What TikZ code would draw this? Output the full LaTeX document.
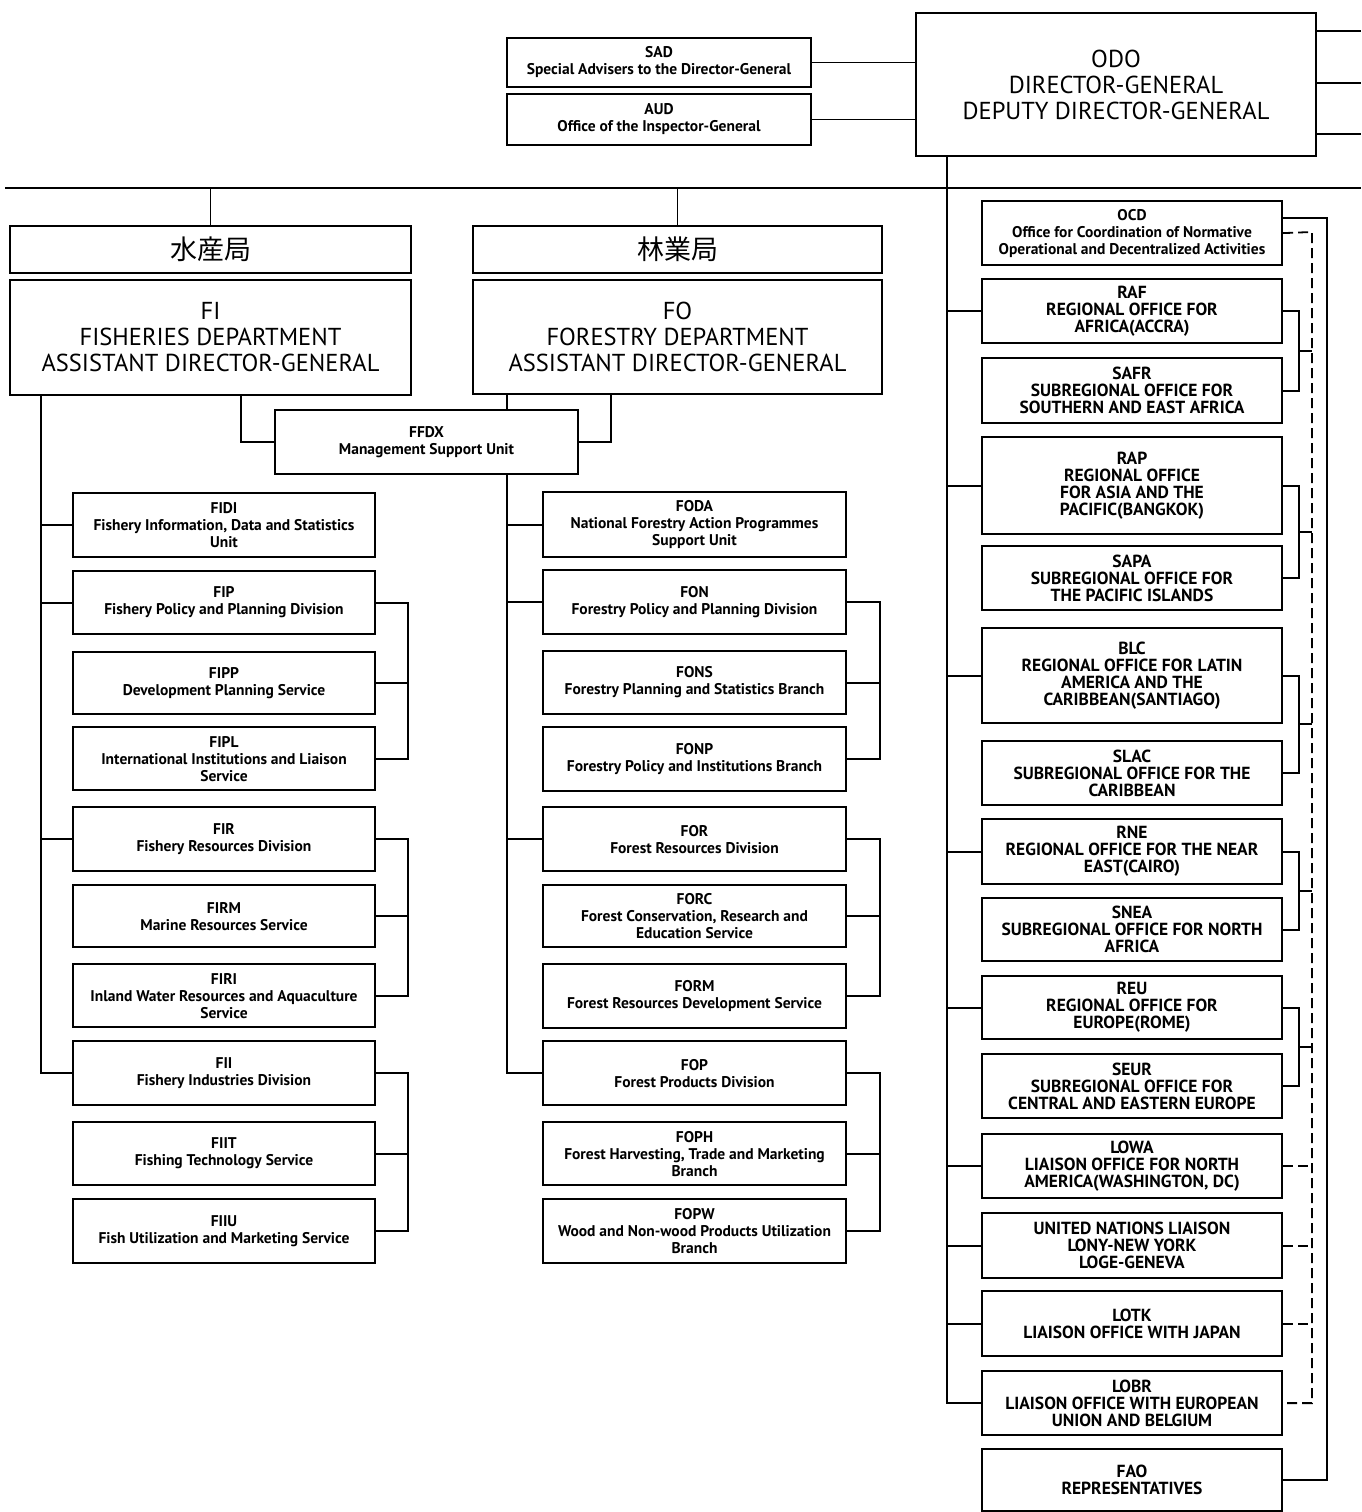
\documentclass[tikz,border=0pt]{standalone}
\usepackage{fontspec}
\setmainfont{PT Sans}
\newfontfamily\jpfont{Noto Sans CJK JP}
\usetikzlibrary{calc}

\begin{document}
\begin{tikzpicture}[x=1pt,y=-1pt,line width=1.8pt,
    box/.style={draw,line width=2.2pt,fill=white,align=center,inner sep=0pt},
    unit/.style={box,minimum width=302pt,font=\bfseries\fontsize{15.5}{17}\selectfont},
    office/.style={box,minimum width=300pt,font=\bfseries\fontsize{17.5}{17}\selectfont},
    head/.style={box,font=\fontsize{24.5}{26}\selectfont},
    kanji/.style={box,minimum height=47pt,font=\jpfont\fontsize{27}{30}\selectfont},
    link/.style={dash pattern=on 10pt off 5pt}]
  \useasboundingbox (0,0) rectangle (1361,1512);

  % director-general and the offices beside it
  \node[head,minimum width=400pt,minimum height=143pt] (odo) at (1116,84.5) {ODO\\DIRECTOR-GENERAL\\DEPUTY DIRECTOR-GENERAL};
  \node[unit,minimum width=304pt,minimum height=49pt] (sad) at (659,62.5) {SAD\\Special Advisers to the Director-General};
  \node[unit,minimum width=304pt,minimum height=51pt] (aud) at (659,119.5) {AUD\\Office of the Inspector-General};
  \draw (sad.east) -- (sad.east -| odo.west);
  \draw (aud.east) -- (aud.east -| odo.west);
  \coordinate (rim) at (1361,0);
  \foreach \dy in {19,71,122}
    \draw ($(odo.north east)+(0,\dy)$) coordinate (t) -- (t -| rim);

  % main bus
  \coordinate (busL) at (5,188);
  \coordinate (busR) at (1361,188);
  \draw[line width=1.4pt] (busL) -- (busR);

  % departments
  \node[kanji,minimum width=401pt] (fish) at (210.5,249.5) {水産局};
  \node[head,minimum width=401pt,minimum height=115pt] (fi) at (210.5,337.5) {FI\\FISHERIES DEPARTMENT\\ASSISTANT DIRECTOR-GENERAL};
  \node[kanji,minimum width=409pt] (fore) at (677.5,249.5) {林業局};
  \node[head,minimum width=409pt,minimum height=114pt] (fo) at (677.5,337) {FO\\FORESTRY DEPARTMENT\\ASSISTANT DIRECTOR-GENERAL};
  \draw (fish.north) -- (fish.north |- busL);
  \draw (fore.north) -- (fore.north |- busL);

  \node[unit,minimum width=303pt,minimum height=64pt] (ffdx) at (426.5,442) {FFDX\\Management Support Unit};
  \draw ([xshift=232pt]fi.south west) |- (ffdx.west);
  \draw ([xshift=139pt]fo.south west) |- (ffdx.east);

  % fisheries
  \foreach \nm/\yt/\hh/\txt in {
      fidi/492/64/{FIDI\\Fishery Information, Data and Statistics\\Unit},
      fip/570/63/{FIP\\Fishery Policy and Planning Division},
      fipp/651/62/{FIPP\\Development Planning Service},
      fipl/726/63/{FIPL\\International Institutions and Liaison\\Service},
      fir/806/64/{FIR\\Fishery Resources Division},
      firm/884/62/{FIRM\\Marine Resources Service},
      firi/963/63/{FIRI\\Inland Water Resources and Aquaculture\\Service},
      fii/1040/64/{FII\\Fishery Industries Division},
      fiit/1121/63/{FIIT\\Fishing Technology Service},
      fiiu/1198/64/{FIIU\\Fish Utilization and Marketing Service}}
    \node[unit,anchor=north,minimum height=\hh pt] (\nm) at (224,\yt) {\txt};
  \coordinate (fitr) at ([xshift=32pt]fi.south west);
  \draw (fitr) |- (fii.west);
  \foreach \nm in {fidi,fip,fir}
    \draw (\nm.west) -- (\nm.west -| fitr);
  \foreach \a/\b/\c in {fip/fipp/fipl,fir/firm/firi,fii/fiit/fiiu} {
    \draw (\a.east) -- ++(32pt,0) |- (\c.east);
    \draw (\b.east) -- ++(32pt,0);
  }

  % forestry
  \foreach \nm/\yt/\hh/\txt in {
      foda/491/65/{FODA\\National Forestry Action Programmes\\Support Unit},
      fon/569/64/{FON\\Forestry Policy and Planning Division},
      fons/650/63/{FONS\\Forestry Planning and Statistics Branch},
      fonp/726/64/{FONP\\Forestry Policy and Institutions Branch},
      for/806/64/{FOR\\Forest Resources Division},
      forc/884/62/{FORC\\Forest Conservation, Research and\\Education Service},
      form/963/64/{FORM\\Forest Resources Development Service},
      fop/1040/64/{FOP\\Forest Products Division},
      foph/1121/63/{FOPH\\Forest Harvesting, Trade and Marketing\\Branch},
      fopw/1198/64/{FOPW\\Wood and Non-wood Products Utilization\\Branch}}
    \node[unit,anchor=north,minimum width=303pt,minimum height=\hh pt] (\nm) at (694.5,\yt) {\txt};
  \coordinate (fotr) at ([xshift=35pt]fo.south west);
  \draw (fotr) -- (fotr |- ffdx.north);
  \draw (fotr |- ffdx.south) |- (fop.west);
  \foreach \nm in {foda,fon,for}
    \draw (\nm.west) -- (\nm.west -| fotr);
  \foreach \a/\b/\c in {fon/fons/fonp,for/forc/form,fop/foph/fopw} {
    \draw (\a.east) -- ++(33pt,0) |- (\c.east);
    \draw (\b.east) -- ++(33pt,0);
  }

  % regional and liaison offices
  \node[unit,anchor=north,minimum width=300pt,minimum height=64pt] (ocd) at (1132,200) {OCD\\Office for Coordination of Normative\\Operational and Decentralized Activities};
  \foreach \nm/\yt/\hh/\txt in {
      raf/278/64/{RAF\\REGIONAL OFFICE FOR\\AFRICA(ACCRA)},
      safr/357/65/{SAFR\\SUBREGIONAL OFFICE FOR\\SOUTHERN AND EAST AFRICA},
      rap/436/97/{RAP\\REGIONAL OFFICE\\FOR ASIA AND THE\\PACIFIC(BANGKOK)},
      sapa/545/64/{SAPA\\SUBREGIONAL OFFICE FOR\\THE PACIFIC ISLANDS},
      blc/627/95/{BLC\\REGIONAL OFFICE FOR LATIN\\AMERICA AND THE\\CARIBBEAN(SANTIAGO)},
      slac/740/64/{SLAC\\SUBREGIONAL OFFICE FOR THE\\CARIBBEAN},
      rne/818/65/{RNE\\REGIONAL OFFICE FOR THE NEAR\\EAST(CAIRO)},
      snea/897/63/{SNEA\\SUBREGIONAL OFFICE FOR NORTH\\AFRICA},
      reu/975/63/{REU\\REGIONAL OFFICE FOR\\EUROPE(ROME)},
      seur/1053/64/{SEUR\\SUBREGIONAL OFFICE FOR\\CENTRAL AND EASTERN EUROPE},
      lowa/1133/64/{LOWA\\LIAISON OFFICE FOR NORTH\\AMERICA(WASHINGTON, DC)},
      lony/1212/65/{UNITED NATIONS LIAISON\\LONY-NEW YORK\\LOGE-GENEVA},
      lotk/1290/65/{LOTK\\LIAISON OFFICE WITH JAPAN},
      lobr/1370/64/{LOBR\\LIAISON OFFICE WITH EUROPEAN\\UNION AND BELGIUM},
      fao/1448/62/{FAO\\REPRESENTATIVES}}
    \node[office,anchor=north,minimum height=\hh pt] (\nm) at (1132,\yt) {\txt};
  \coordinate (odotr) at ([xshift=32pt]odo.south west);
  \draw (odotr) |- (lobr.west);
  \foreach \nm in {raf,rap,blc,rne,reu,lowa,lony,lotk}
    \draw (\nm.west) -- (\nm.west -| odotr);
  \coordinate (dsh) at (1312,232);
  \coordinate (sol) at (1327,218);
  \draw[link] (ocd.east) -- (dsh) |- (lobr.east);
  \draw ([yshift=-18pt]ocd.north east) -- (sol) |- (fao.east);
  \foreach \a/\b in {raf/safr,rap/sapa,blc/slac,rne/snea,reu/seur} {
    \draw (\a.east) -- ++(16pt,0) |- (\b.east);
    \path ($(\a.east)!.5!(\b.east)$) ++(16pt,0) coordinate (mid);
    \draw (mid) -- (mid -| dsh);
  }
  \foreach \nm in {lowa,lony,lotk}
    \draw[link] (\nm.east) -- (\nm.east -| dsh);
\end{tikzpicture}
\end{document}
